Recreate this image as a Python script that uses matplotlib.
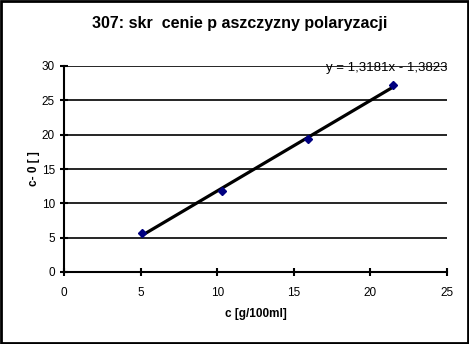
import numpy as np
import matplotlib
matplotlib.use("Agg")
import matplotlib.pyplot as plt
from matplotlib.patches import Rectangle

# data
c_vals = [5.1, 10.3, 15.9, 21.5]
alpha_vals = [5.7, 11.8, 19.4, 27.2]
slope = 1.3181
intercept = -1.3823
x_ticks = [0, 5, 10, 15, 20, 25]
y_ticks = [0, 5, 10, 15, 20, 25, 30]

plt.rcParams['font.family'] = ['Liberation Sans', 'DejaVu Sans']

fig = plt.figure(figsize=(4.69, 3.44), dpi=100)
ax = fig.add_axes([64/469, 72/344, 383/469, 206/344])

# trendline between first and last point
xl = np.array([c_vals[0], c_vals[-1]])
ax.plot(xl, slope*xl + intercept, color='black', lw=2.3, zorder=3)
ax.plot(c_vals, alpha_vals, 'D', color='#000080', ms=4, zorder=4)

ax.set_xlim(0, 25)
ax.set_ylim(0, 30)
ax.set_xticks(x_ticks)
ax.set_yticks(y_ticks)
ax.yaxis.grid(True, color='black', lw=1.2)
ax.set_axisbelow(True)
for s in ['top', 'right']:
    ax.spines[s].set_visible(False)
for s in ['left', 'bottom']:
    ax.spines[s].set_linewidth(1.5)
ax.tick_params(direction='inout', length=6, width=1.5, labelsize=8.5)
ax.tick_params(axis='x', pad=8)

ax.set_xlabel('c [g/100ml]', fontsize=8.5, fontweight='bold', labelpad=6)
ax.set_ylabel('c- 0 [ ]', fontsize=8.5, fontweight='bold', labelpad=1)
fig.text(0.512, 0.933, '307: skr  cenie p aszczyzny polaryzacji',
         ha='center', va='center', fontsize=11.5, fontweight='bold')
ax.text(25, 29.7, 'y = 1,3181x - 1,3823', ha='right', va='center',
        fontsize=9.5, zorder=0)

fig.patches.append(Rectangle((0.002, 0.003), 0.996, 0.994, transform=fig.transFigure,
                             fill=False, edgecolor='black', lw=2))
fig.savefig('out.png', dpi=100)
